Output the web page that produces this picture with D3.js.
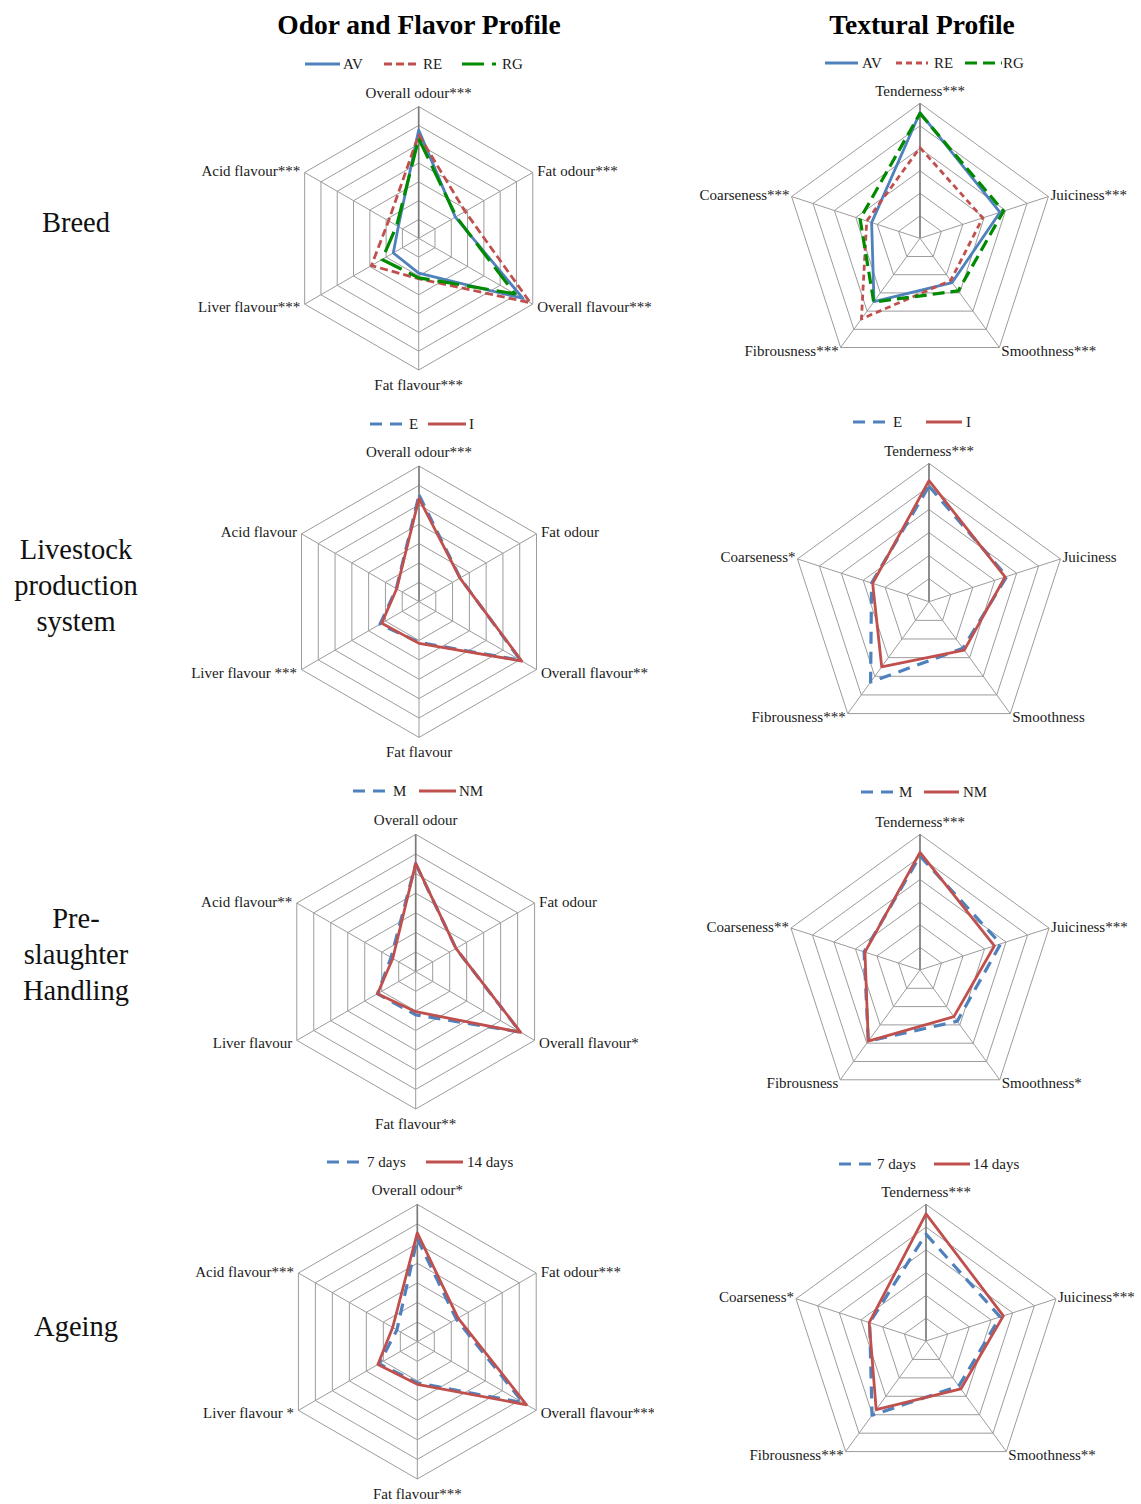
<!DOCTYPE html>
<html><head><meta charset="utf-8">
<script src="https://cdn.jsdelivr.net/npm/d3@7"></script>
<style>body{margin:0;background:#fff}</style>
</head><body>
<svg id="c" width="1141" height="1504"></svg>
<script>
// ---------- DATA ----------
const columnTitles = ["Odor and Flavor Profile", "Textural Profile"];
const rowLabels = [["Breed"], ["Livestock", "production", "system"], ["Pre-", "slaughter", "Handling"], ["Ageing"]];

const odorAxesBreed = ["Overall odour***", "Fat odour***", "Overall flavour***", "Fat flavour***", "Liver flavour***", "Acid flavour***"];
const odorAxesSystem = ["Overall odour***", "Fat odour", "Overall flavour**", "Fat flavour", "Liver flavour ***", "Acid flavour"];
const odorAxesHandling = ["Overall odour", "Fat odour", "Overall flavour*", "Fat flavour**", "Liver flavour", "Acid flavour**"];
const odorAxesAgeing = ["Overall odour*", "Fat odour***", "Overall flavour***", "Fat flavour***", "Liver flavour *", "Acid flavour***"];

const texAxesBreed = ["Tenderness***", "Juiciness***", "Smoothness***", "Fibrousness***", "Coarseness***"];
const texAxesSystem = ["Tenderness***", "Juiciness", "Smoothness", "Fibrousness***", "Coarseness*"];
const texAxesHandling = ["Tenderness***", "Juiciness***", "Smoothness*", "Fibrousness", "Coarseness**"];
const texAxesAgeing = ["Tenderness***", "Juiciness***", "Smoothness**", "Fibrousness***", "Coarseness*"];

const breedGroups = ["AV", "RE", "RG"];
const systemGroups = ["E", "I"];
const handlingGroups = ["M", "NM"];
const ageingGroups = ["7 days", "14 days"];

// odour & flavour values (scale 0-7)
const odorBreedAV = [5.75, 2.25, 6.4, 1.85, 1.56, 1.25];
const odorBreedRE = [5.5, 2.85, 6.85, 2.15, 2.9, 1.85];
const odorBreedRG = [5.3, 2.3, 5.9, 2.1, 2.25, 1.35];
const odorSystemE = [5.5, 2.45, 6.05, 2.1, 2.32, 1.35];
const odorSystemI = [5.33, 2.44, 6.12, 2.15, 2.22, 1.33];
const odorHandlingM = [5.5, 2.37, 6.15, 2.2, 2.25, 1.45];
const odorHandlingNM = [5.52, 2.37, 6.18, 2.04, 2.25, 1.35];
const odorAgeing7 = [5.25, 2.3, 6.23, 2.1, 2.25, 1.2];
const odorAgeing14 = [5.55, 2.4, 6.43, 2.17, 2.32, 1.45];

// textural values (scale 0-6)
const texBreedAV = [5.59, 3.74, 2.43, 3.48, 2.26];
const texBreedRE = [4.03, 2.93, 2.32, 4.43, 2.49];
const texBreedRG = [5.55, 3.9, 2.89, 3.5, 2.8];
const texSystemE = [5.01, 3.55, 2.5, 4.31, 2.62];
const texSystemI = [5.25, 3.47, 2.6, 3.49, 2.57];
const texHandlingM = [5.04, 3.75, 2.8, 3.89, 2.6];
const texHandlingNM = [5.2, 3.46, 2.55, 3.89, 2.56];
const texAgeing7 = [4.69, 3.42, 2.45, 4.03, 2.6];
const texAgeing14 = [5.58, 3.57, 2.6, 3.72, 2.62];

// ---------- STYLES ----------
const BLUE = "#4F81BD", RED = "#C0504D", GREEN = "#008A00";
const sSolidBlue = {color: BLUE, width: 2.8, dash: null};
const sShortRed = {color: RED, width: 2.8, dash: "8,4"};
const sLongGreen = {color: GREEN, width: 3.2, dash: "22,8"};
const sLongGreen2 = {color: GREEN, width: 3.2, dash: "12,6"};
const sDashBlue = {color: BLUE, width: 3.2, dash: "12,8"};
const sSolidRed = {color: RED, width: 2.8, dash: null};

const serif = "'Liberation Serif','Times New Roman',serif";

const charts = [
  {axes: odorAxesBreed, rings: 7, groups: breedGroups, values: [odorBreedAV, odorBreedRE, odorBreedRG],
   styles: [sSolidBlue, sShortRed, sLongGreen], cx: 418.7, cy: 238.3, r: 131.7, legY: 64, legX: [305, 384, 462], legLen: [35, 33, 34], legText: [38, 39, 40], clip: true},
  {axes: texAxesBreed, rings: 6, groups: breedGroups, values: [texBreedAV, texBreedRE, texBreedRG],
   styles: [sSolidBlue, {color: RED, width: 2.8, dash: "6,4"}, sLongGreen2], cx: 920, cy: 238.3, r: 135, legY: 63, legX: [825, 896, 965], legLen: [33, 32, 37], legText: [37, 38, 38]},
  {axes: odorAxesSystem, rings: 7, groups: systemGroups, values: [odorSystemE, odorSystemI],
   styles: [sDashBlue, sSolidRed], cx: 419, cy: 601.7, r: 135.7, legY: 424, legX: [370, 428], legLen: [33, 38], legText: [39, 41], clip: true},
  {axes: texAxesSystem, rings: 6, groups: systemGroups, values: [texSystemE, texSystemI],
   styles: [sDashBlue, sSolidRed], cx: 929, cy: 601.7, r: 138.3, legY: 422, legX: [853, 926], legLen: [33, 36], legText: [40, 40]},
  {axes: odorAxesHandling, rings: 7, groups: handlingGroups, values: [odorHandlingM, odorHandlingNM],
   styles: [sDashBlue, sSolidRed], cx: 415.7, cy: 971.7, r: 137.3, legY: 791, legX: [353, 419], legLen: [33, 37], legText: [40, 40], clip: true},
  {axes: texAxesHandling, rings: 6, groups: handlingGroups, values: [texHandlingM, texHandlingNM],
   styles: [sDashBlue, sSolidRed], cx: 920, cy: 970, r: 135.7, legY: 792, legX: [861, 924], legLen: [33, 35], legText: [38, 39]},
  {axes: odorAxesAgeing, rings: 7, groups: ageingGroups, values: [odorAgeing7, odorAgeing14],
   styles: [sDashBlue, sSolidRed], cx: 417.3, cy: 1341.7, r: 137.3, legY: 1162, legX: [327, 426], legLen: [33, 37], legText: [40, 41], clip: true},
  {axes: texAxesAgeing, rings: 6, groups: ageingGroups, values: [texAgeing7, texAgeing14],
   styles: [sDashBlue, sSolidRed], cx: 926, cy: 1341, r: 136.7, legY: 1164, legX: [839, 934], legLen: [33, 36], legText: [38, 39]}
];

// ---------- DRAW ----------
const svg = d3.select("#c");
svg.append("rect").attr("width", 1141).attr("height", 1504).attr("fill", "#fff");
svg.append("defs").append("clipPath").attr("id", "leftClip")
  .append("rect").attr("x", 0).attr("y", 0).attr("width", 654).attr("height", 1504);

// column titles
const titleX = [419, 922];
columnTitles.forEach((t, i) => {
  svg.append("text").attr("x", titleX[i]).attr("y", 34).attr("text-anchor", "middle")
    .attr("font-family", serif).attr("font-weight", "bold").attr("font-size", 27.5).attr("fill", "#000").text(t);
});

// row labels
const rowBase = [[232], [559, 595, 631], [928, 964, 1000], [1336]];
rowLabels.forEach((lines, i) => {
  lines.forEach((ln, j) => {
    svg.append("text").attr("x", 76).attr("y", rowBase[i][j]).attr("text-anchor", "middle")
      .attr("font-family", serif).attr("font-size", 28.5).attr("fill", "#111").text(ln);
  });
});

function drawRadar(cfg) {
  const outer = svg.append("g");
  if (cfg.clip) outer.attr("clip-path", "url(#leftClip)");
  const g = outer.append("g").attr("transform", `translate(${cfg.cx},${cfg.cy})`);
  const n = cfg.axes.length;
  const rScale = d3.scaleLinear().domain([0, cfg.rings]).range([0, cfg.r]);
  const ang = i => i * 2 * Math.PI / n;
  const radial = d3.lineRadial().angle((d, i) => ang(i)).radius(d => rScale(d)).curve(d3.curveLinearClosed);

  // rings
  d3.range(1, cfg.rings + 1).forEach(k => {
    g.append("path").attr("d", radial(d3.range(n).map(() => k)))
      .attr("fill", "none").attr("stroke", "#9c9c9c").attr("stroke-width", 1);
  });
  // spokes
  d3.range(n).forEach(i => {
    const a = ang(i);
    g.append("line").attr("x1", 0).attr("y1", 0)
      .attr("x2", rScale(cfg.rings) * Math.sin(a)).attr("y2", -rScale(cfg.rings) * Math.cos(a))
      .attr("stroke", i === 0 ? "#7a7a7a" : "#9c9c9c").attr("stroke-width", i === 0 ? 1.7 : 1);
  });

  // axis labels
  const isHex = n === 6;
  cfg.axes.forEach((lab, i) => {
    const a = ang(i);
    const vx = rScale(cfg.rings) * Math.sin(a), vy = -rScale(cfg.rings) * Math.cos(a);
    const s = Math.sin(a), c = Math.cos(a);
    let x, y, anchor;
    if (Math.abs(s) < 0.01) {
      anchor = "middle"; x = vx;
      y = c > 0 ? vy - (isHex ? 9 : 7.5) : vy + 20;
    } else {
      const off = isHex ? 4.5 : 2;
      anchor = s > 0 ? "start" : "end";
      x = s > 0 ? vx + off : vx - off;
      y = c > 0 ? vy + 3.5 : vy + 8;
    }
    g.append("text").attr("x", x).attr("y", y).attr("text-anchor", anchor)
      .attr("font-family", serif).attr("font-size", 15).attr("fill", "#1a1a1a").text(lab);
  });

  // series
  cfg.values.forEach((vals, si) => {
    const st = cfg.styles[si];
    g.append("path").attr("d", radial(vals))
      .attr("fill", "none").attr("stroke", st.color).attr("stroke-width", st.width)
      .attr("stroke-dasharray", st.dash).attr("stroke-linejoin", "round");
  });

  // legend
  cfg.groups.forEach((name, si) => {
    const st = cfg.styles[si];
    const x0 = cfg.legX[si];
    svg.append("line").attr("x1", x0).attr("x2", x0 + cfg.legLen[si])
      .attr("y1", cfg.legY).attr("y2", cfg.legY)
      .attr("stroke", st.color).attr("stroke-width", st.width).attr("stroke-dasharray", st.dash);
    svg.append("text").attr("x", x0 + cfg.legText[si]).attr("y", cfg.legY + 5)
      .attr("font-family", serif).attr("font-size", 15).attr("fill", "#1a1a1a").text(name);
  });
}

charts.forEach(drawRadar);
</script>
</body></html>
